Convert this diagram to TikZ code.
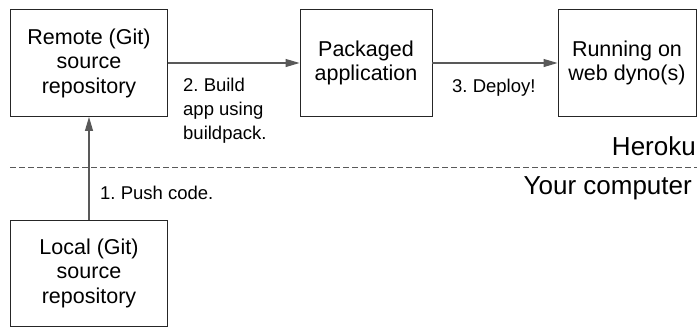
\documentclass[tikz,border=0pt]{standalone}
\usepackage{fontspec}
\setmainfont{Liberation Sans}
\usetikzlibrary{arrows.meta}
\frenchspacing
\begin{document}
\begin{tikzpicture}[x=1pt,y=-1pt,
  boxst/.style={draw=black!85,line width=0.9pt,minimum width=157pt,minimum height=107pt,inner sep=0pt,align=center,font=\fontsize{21.5}{24.5}\selectfont},
  conn/.style={draw=black!65,line width=1.1pt,-{Triangle[length=14pt,width=8pt]}},
  lab/.style={align=left,anchor=west,inner sep=0pt,font=\fontsize{18.5}{24}\selectfont},
  region/.style={anchor=east,inner sep=0pt,font=\fontsize{26}{28}\selectfont}]
\useasboundingbox (0,0) rectangle (697,327);
\node[boxst] (remote) at (89,63) {Remote (Git)\\source\\repository};
\node[boxst,minimum width=132pt] (pack) at (366,63) {Packaged\\application};
\node[boxst,minimum width=138pt] (run) at (627,63) {Running on\\web dyno(s)};
\node[boxst,minimum height=106pt] (local) at (89,273) {Local (Git)\\source\\repository};
\draw[conn] (remote) -- (pack);
\draw[conn] (pack) -- (run);
\draw[conn] (local) -- (remote);
\node[lab] (l2) at (183,111) {2. Build\\app using\\buildpack.};
\node[lab] (l3) at (452,88) {3. Deploy!};
\node[lab] (l1) at (100,193) {1. Push code.};
\coordinate (dl) at (10,167);
\coordinate (dr) at (697,167);
\draw[black!65,line width=0.9pt,dash pattern=on 5.5pt off 3.5pt] (dl) -- (dr);
\node[region] (heroku) at (696,146) {Heroku};
\node[region] (yours) at (692,188) {Your computer};
\end{tikzpicture}
\end{document}
